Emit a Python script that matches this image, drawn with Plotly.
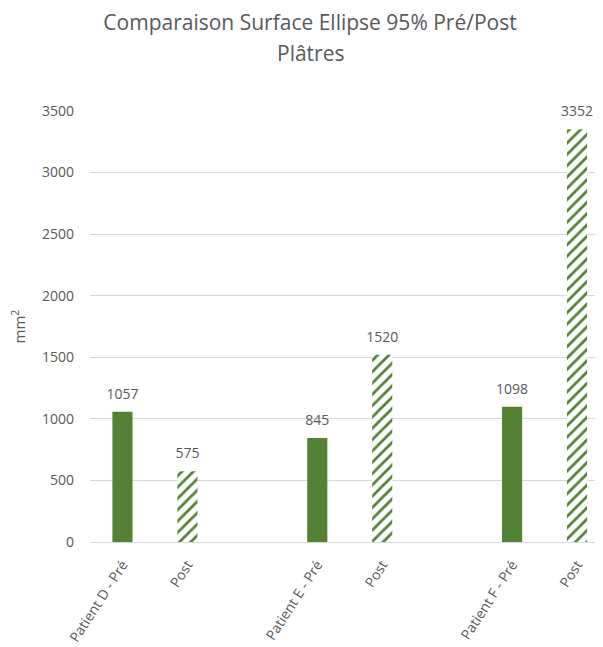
import plotly.graph_objects as go

# ---- data ----
categories_pre = ["Patient D - Pré", "Patient E - Pré", "Patient F - Pré"]
categories_post = ["Patient D - Post", "Patient E - Post", "Patient F - Post"]
values_pre = [1057, 845, 1098]
values_post = [575, 1520, 3352]
category_order = ["Patient D - Pré", "Patient D - Post", " ",
                  "Patient E - Pré", "Patient E - Post", "  ",
                  "Patient F - Pré", "Patient F - Post"]
tick_vals = ["Patient D - Pré", "Patient D - Post",
             "Patient E - Pré", "Patient E - Post",
             "Patient F - Pré", "Patient F - Post"]
tick_text = ["Patient D - Pré", "Post", "Patient E - Pré", "Post",
             "Patient F - Pré", "Post"]
y_ticks = [0, 500, 1000, 1500, 2000, 2500, 3000, 3500]
title_line1 = "Comparaison Surface Ellipse 95% Pré/Post"
title_line2 = "Plâtres"

GREEN = "#548235"
GRAY = "#595959"
FONT = "Open Sans"

# page body has an 8px margin, so the figure is drawn 8px smaller
W, H = 595, 639
L, T, B = 82, 103, 105
plot_h = H - T - B
plot_w = W - L

fig = go.Figure()
fig.add_trace(go.Bar(
    x=categories_pre, y=values_pre, width=0.31,
    marker=dict(color=GREEN, line=dict(width=0)),
    showlegend=False, hoverinfo="x+y",
))
fig.add_trace(go.Bar(
    x=categories_post, y=values_post, width=0.31,
    marker=dict(color="white", line=dict(width=0),
                pattern=dict(shape="/", fgcolor=GREEN, bgcolor="white",
                             fgopacity=1, size=8, solidity=0.35,
                             fillmode="replace")),
    showlegend=False, hoverinfo="x+y",
))
# data labels
for cats, vals in ((categories_pre, values_pre), (categories_post, values_post)):
    fig.add_trace(go.Scatter(
        x=cats, y=vals, mode="markers+text",
        text=[str(v) for v in vals], textposition="top center",
        marker=dict(size=14, color="rgba(0,0,0,0)"),
        textfont=dict(family=FONT, size=14, color=GRAY),
        cliponaxis=False, showlegend=False, hoverinfo="skip",
    ))

fig.update_layout(
    width=W, height=H,
    margin=dict(l=L, r=0, t=T, b=B, autoexpand=False),
    paper_bgcolor="white", plot_bgcolor="white",
    barmode="overlay",
    font=dict(family=FONT, color=GRAY),
    title=dict(text=title_line1, x=302 / W, xanchor="center",
               y=1 - 15 / H, yanchor="middle", yref="container",
               font=dict(family=FONT, size=21, color=GRAY)),
    annotations=[dict(text=title_line2, xref="paper", yref="paper",
                      x=(302 - L) / plot_w, y=(H - B - 45) / plot_h,
                      xanchor="center", yanchor="middle", showarrow=False,
                      font=dict(family=FONT, size=21, color=GRAY))],
    xaxis=dict(type="category", categoryorder="array",
               categoryarray=category_order,
               range=[-0.5, 7.4],
               tickvals=tick_vals, ticktext=tick_text,
               tickangle=-57, tickfont=dict(family=FONT, size=14, color=GRAY),
               showgrid=False, showline=True, linecolor="#d9d9d9", linewidth=1,
               ticks="", ticklabelstandoff=8, automargin=False),
    yaxis=dict(range=[0, 3500], tickvals=y_ticks,
               tickfont=dict(family=FONT, size=14, color=GRAY),
               gridcolor="#d9d9d9", gridwidth=1, zeroline=False,
               showline=False, ticks="", ticklabelstandoff=15,
               automargin=False,
               title=dict(text="mm<sup>2</sup>", standoff=13,
                          font=dict(family=FONT, size=15, color=GRAY))),
)

fig.write_html("out.html")
